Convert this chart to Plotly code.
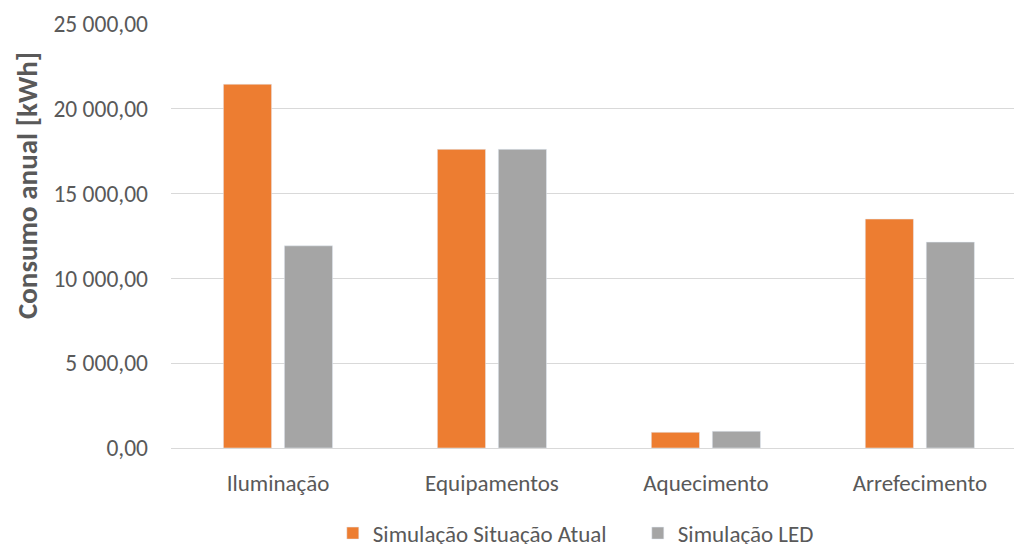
import plotly.graph_objects as go

categories = ["Iluminação", "Equipamentos", "Aquecimento", "Arrefecimento"]
atual = [21450, 17610, 925, 13500]
led = [11920, 17610, 985, 12140]
series_names = ["Simulação Situação Atual", "Simulação LED"]
tick_vals = [0, 5000, 10000, 15000, 20000, 25000]
tick_text = ["0,00", "5 000,00", "10 000,00", "15 000,00", "20 000,00", "25 000,00"]

FONT = "Calibri, Carlito, Lato, sans-serif"
TXT = "#595959"

fig = go.Figure()
fig.add_trace(go.Bar(x=categories, y=atual, name=series_names[0], marker_color="#ED7D31"))
fig.add_trace(go.Bar(x=categories, y=led, name=series_names[1], marker_color="#A5A5A5"))

fig.update_layout(
    width=1014, height=544,
    margin=dict(l=171, r=0, t=24, b=96),
    plot_bgcolor="white", paper_bgcolor="white",
    barmode="group", bargap=0.43, bargroupgap=0.21,
    font=dict(family=FONT, size=23, color=TXT),
    xaxis=dict(range=[-0.5, 3.44], showgrid=False, showline=True, linecolor="#D9D9D9", linewidth=1,
               ticks="", ticklabelstandoff=14, tickfont=dict(size=23, color=TXT)),
    yaxis=dict(range=[0, 25000], tickvals=tick_vals, ticktext=tick_text, showgrid=True,
               gridcolor="#D9D9D9", gridwidth=1, zeroline=False, showline=False, ticks="",
               ticklabelstandoff=22, tickfont=dict(size=23.5, color=TXT)),
    legend=dict(orientation="h", xref="container", yref="container", x=0.629, y=0.02,
                xanchor="center", yanchor="middle", font=dict(size=23, color=TXT),
                itemwidth=30, tracegroupgap=0, entrywidth=260, entrywidthmode="pixels"),
    showlegend=True,
    annotations=[dict(text="<b>Consumo anual [kWh]</b>", xref="paper", yref="paper",
                      x=-0.1708, y=0.6177, xanchor="center", yanchor="middle", textangle=-90,
                      showarrow=False, font=dict(size=29, color=TXT, family=FONT))],
)

fig.write_html("out.html")
